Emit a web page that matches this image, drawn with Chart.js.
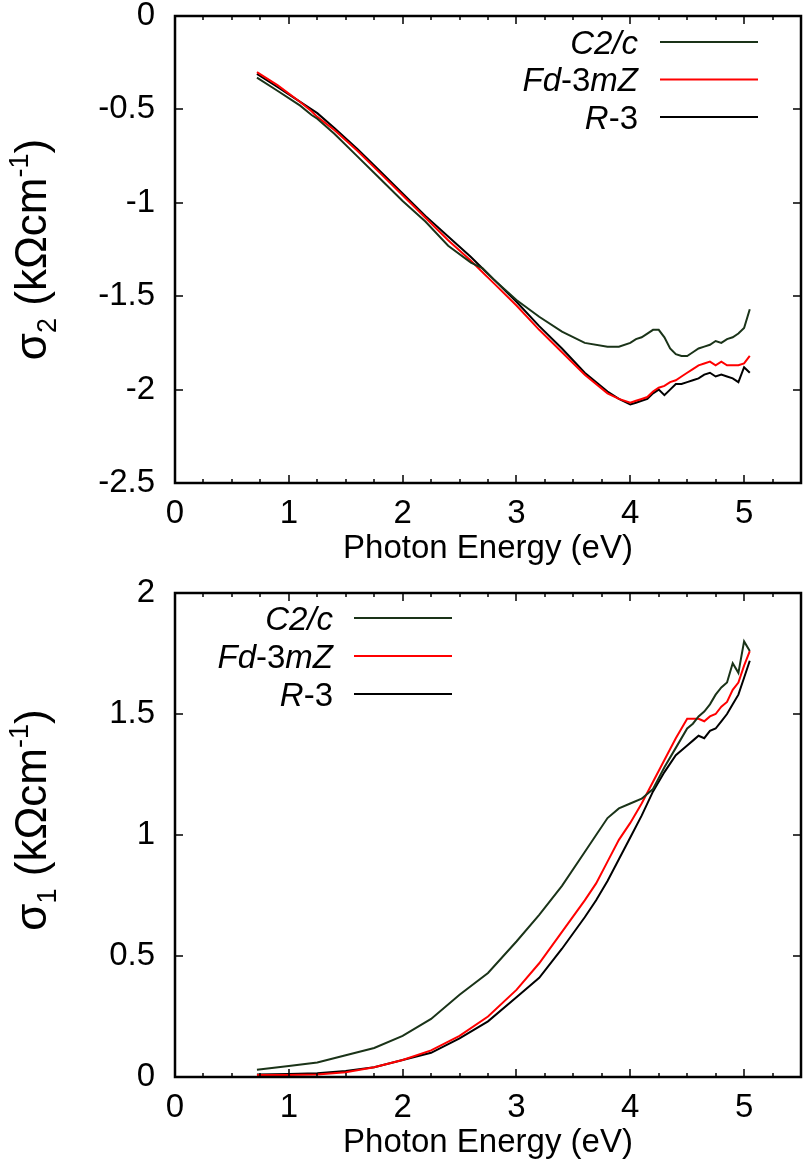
<!DOCTYPE html>
<html>
<head>
<meta charset="utf-8">
<script src="https://cdn.jsdelivr.net/npm/chart.js@4/dist/chart.umd.min.js"></script>
<style>
  html, body { margin: 0; padding: 0; background: #fff; }
  #wrap { position: relative; width: 805px; height: 1165px; }
  canvas { position: absolute; left: 0; }
</style>
</head>
<body>
<div id="wrap">
  <canvas id="sigma2" width="805" height="575" style="top:0px"></canvas>
  <canvas id="sigma1" width="805" height="590" style="top:575px"></canvas>
</div>
<script>
// ================= DATA =================
const seriesNames = ["C2/c", "Fd-3mZ", "R-3"];
const seriesColors = ["#1a3318", "#ff0000", "#000000"];
// legend label pieces: [text, italic]
const legendPieces = [
  [["C2/c", true]],
  [["Fd", true], ["-3", false], ["mZ", true]],
  [["R", true], ["-3", false]],
];

const xTicks = [0, 1, 2, 3, 4, 5];
const xMinorStep = 0.25;
const yTicksTop = [-2.5, -2, -1.5, -1, -0.5, 0];
const yTicksBottom = [0, 0.5, 1, 1.5, 2];

// sigma_2 (top panel)
const energyTop = [0.72, 0.9, 1.1, 1.2, 1.25, 1.4, 1.6, 1.8, 2.0, 2.2, 2.4, 2.6, 2.7, 2.8, 3.0, 3.2, 3.4, 3.6, 3.8, 3.9,
  4.0, 4.05, 4.1, 4.15, 4.2, 4.25, 4.3, 4.35, 4.4, 4.45, 4.5, 4.55, 4.6, 4.65, 4.7, 4.75, 4.8, 4.85, 4.9, 4.95, 5.0, 5.05];
const s2C2c = [-0.33, -0.40, -0.48, -0.53, -0.55, -0.63, -0.75, -0.87, -0.99, -1.10, -1.23, -1.32, -1.35, -1.41, -1.52, -1.61, -1.69, -1.75, -1.77, -1.77,
  -1.75, -1.73, -1.72, -1.70, -1.68, -1.68, -1.72, -1.78, -1.81, -1.82, -1.82, -1.80, -1.78, -1.77, -1.76, -1.74, -1.75, -1.73, -1.72, -1.70, -1.67, -1.57];
const s2Fd3mZ = [-0.30, -0.37, -0.46, -0.51, -0.54, -0.61, -0.72, -0.84, -0.96, -1.08, -1.20, -1.31, -1.37, -1.43, -1.55, -1.68, -1.80, -1.92, -2.02, -2.05,
  -2.07, -2.06, -2.05, -2.04, -2.01, -1.99, -1.98, -1.96, -1.95, -1.93, -1.91, -1.89, -1.87, -1.86, -1.85, -1.87, -1.85, -1.87, -1.87, -1.87, -1.86, -1.82];
const s2R3 = [-0.31, -0.38, -0.46, -0.50, -0.52, -0.60, -0.71, -0.83, -0.95, -1.07, -1.18, -1.29, -1.35, -1.41, -1.53, -1.66, -1.78, -1.91, -2.01, -2.05,
  -2.08, -2.07, -2.06, -2.05, -2.02, -2.00, -2.03, -2.00, -1.97, -1.97, -1.96, -1.95, -1.94, -1.92, -1.91, -1.93, -1.92, -1.93, -1.94, -1.96, -1.88, -1.91];

// sigma_1 (bottom panel)
const energyBottom = [0.72, 1.0, 1.25, 1.5, 1.75, 2.0, 2.25, 2.5, 2.75, 3.0, 3.2, 3.4, 3.6, 3.7, 3.8, 3.9, 4.0, 4.1, 4.2, 4.3,
  4.4, 4.5, 4.55, 4.6, 4.65, 4.7, 4.75, 4.8, 4.85, 4.9, 4.95, 5.0, 5.05];
const s1C2c = [0.03, 0.045, 0.06, 0.09, 0.12, 0.17, 0.24, 0.34, 0.43, 0.56, 0.67, 0.79, 0.93, 1.00, 1.07, 1.11, 1.13, 1.15, 1.19, 1.28,
  1.36, 1.44, 1.46, 1.49, 1.51, 1.54, 1.58, 1.61, 1.63, 1.71, 1.67, 1.80, 1.76];
const s1Fd3mZ = [0.008, 0.008, 0.01, 0.02, 0.04, 0.07, 0.11, 0.17, 0.25, 0.36, 0.47, 0.60, 0.73, 0.80, 0.89, 0.98, 1.05, 1.13, 1.22, 1.31,
  1.40, 1.48, 1.48, 1.48, 1.47, 1.49, 1.50, 1.53, 1.55, 1.60, 1.63, 1.70, 1.76];
const s1R3 = [0.01, 0.012, 0.015, 0.025, 0.04, 0.07, 0.10, 0.16, 0.23, 0.33, 0.41, 0.53, 0.66, 0.73, 0.81, 0.90, 0.99, 1.08, 1.18, 1.26,
  1.33, 1.37, 1.39, 1.41, 1.40, 1.43, 1.44, 1.47, 1.50, 1.54, 1.58, 1.65, 1.72];

const FONT = "'Liberation Sans', Arial, Helvetica, sans-serif";
const TICK_SIZE = 33;

// ================= PLUGINS =================
// closed frame with inward ticks on all four sides
const frameTicks = {
  id: "frameTicks",
  afterDatasetsDraw(chart) {
    const { ctx, chartArea: a, scales: { x, y } } = chart;
    ctx.save();
    ctx.strokeStyle = "#000";
    ctx.lineWidth = 1.5;
    ctx.beginPath();
    for (let v = x.min; v <= x.max + 1e-9; v += xMinorStep) {
      const px = Math.round(x.getPixelForValue(v));
      const len = Math.abs(v - Math.round(v)) < 1e-9 ? 8 : 4;
      ctx.moveTo(px, a.bottom); ctx.lineTo(px, a.bottom - len);
      ctx.moveTo(px, a.top); ctx.lineTo(px, a.top + len);
    }
    y.ticks.forEach((t) => {
      const py = Math.round(y.getPixelForValue(t.value));
      ctx.moveTo(a.left, py); ctx.lineTo(a.left + 8, py);
      ctx.moveTo(a.right, py); ctx.lineTo(a.right - 8, py);
    });
    ctx.stroke();
    ctx.lineWidth = 2.5;
    ctx.strokeRect(a.left, a.top, a.right - a.left, a.bottom - a.top);
    ctx.restore();
  },
};

// legend with mixed italic / upright pieces
const keyPlugin = {
  id: "keyPlugin",
  afterDatasetsDraw(chart, args, opts) {
    const { ctx } = chart;
    ctx.save();
    ctx.textBaseline = "alphabetic";
    legendPieces.forEach((pieces, i) => {
      const rowY = opts.top + i * opts.gap;
      const base = rowY + opts.size * 0.36;
      let w = 0;
      pieces.forEach(([t, it]) => {
        ctx.font = (it ? "italic " : "") + opts.size + "px " + FONT;
        w += ctx.measureText(t).width;
      });
      let cx = opts.textRight - w;
      ctx.fillStyle = "#000";
      pieces.forEach(([t, it]) => {
        ctx.font = (it ? "italic " : "") + opts.size + "px " + FONT;
        ctx.fillText(t, cx, base);
        cx += ctx.measureText(t).width;
      });
      ctx.strokeStyle = seriesColors[i];
      ctx.lineWidth = 2;
      ctx.beginPath();
      ctx.moveTo(opts.lineFrom, rowY);
      ctx.lineTo(opts.lineTo, rowY);
      ctx.stroke();
    });
    ctx.restore();
  },
};

// rotated y title with subscript / superscript
const yTitle = {
  id: "yTitle",
  afterDraw(chart, args, opts) {
    const { ctx, chartArea: a } = chart;
    const size = opts.size;
    const small = Math.round(size * 0.62);
    const parts = [
      ["σ", size, 0],
      [opts.sub, small, size * 0.22],
      [" (kΩcm", size, 0],
      ["-1", small, -size * 0.4],
      [")", size, 0],
    ];
    ctx.save();
    ctx.translate(opts.x, (a.top + a.bottom) / 2 + opts.shift);
    ctx.rotate(-Math.PI / 2);
    ctx.fillStyle = "#000";
    ctx.textBaseline = "alphabetic";
    let total = 0;
    parts.forEach(([t, s]) => { ctx.font = s + "px " + FONT; total += ctx.measureText(t).width; });
    let cx = -total / 2;
    parts.forEach(([t, s, dy]) => {
      ctx.font = s + "px " + FONT;
      ctx.fillText(t, cx, dy);
      cx += ctx.measureText(t).width;
    });
    ctx.restore();
  },
};

// ================= CHARTS =================
function makeChart(id, cfg) {
  const values = cfg.values;
  return new Chart(document.getElementById(id), {
    type: "line",
    data: {
      datasets: seriesNames.map((name, i) => ({
        label: name,
        data: cfg.energy.map((e, k) => ({ x: e, y: values[i][k] })),
        borderColor: seriesColors[i],
        borderWidth: 2,
        pointRadius: 0,
        tension: 0,
        fill: false,
      })),
    },
    options: {
      responsive: false,
      animation: false,
      events: [],
      layout: { padding: { top: cfg.areaTop, right: 4, left: 0, bottom: 0 } },
      plugins: {
        legend: { display: false },
        tooltip: { enabled: false },
        keyPlugin: cfg.key,
        yTitle: { x: 46, size: 44, sub: cfg.sub, shift: cfg.titleShift },
      },
      scales: {
        x: {
          type: "linear",
          min: 0,
          max: 5.5,
          afterBuildTicks: (s) => { s.ticks = xTicks.map((v) => ({ value: v })); },
          afterFit: (s) => {
            s.height = cfg.height - cfg.areaBottom;
            s.paddingLeft = 0;
            s.paddingRight = 0;
          },
          grid: { display: false, drawTicks: false },
          border: { display: false },
          ticks: {
            color: "#000",
            font: { family: FONT, size: TICK_SIZE, lineHeight: 1 },
            padding: 14,
            maxRotation: 0,
            autoSkip: false,
            callback: (v) => String(v),
          },
          title: {
            display: true,
            text: "Photon Energy (eV)",
            color: "#000",
            font: { family: FONT, size: 33, lineHeight: 1 },
            padding: { top: 0, bottom: cfg.titleBottom },
          },
        },
        y: {
          type: "linear",
          min: cfg.yTicks[0],
          max: cfg.yTicks[cfg.yTicks.length - 1],
          afterBuildTicks: (s) => { s.ticks = cfg.yTicks.map((v) => ({ value: v })); },
          afterFit: (s) => {
            s.width = 175;
            // let the end labels hang over the frame instead of shrinking the area
            s.paddingTop = 0;
            s.paddingBottom = 0;
          },
          grid: { display: false, drawTicks: false },
          border: { display: false },
          ticks: {
            color: "#000",
            font: { family: FONT, size: TICK_SIZE, lineHeight: 1 },
            padding: 20,
            autoSkip: false,
            callback: (v) => String(v),
          },
        },
      },
    },
    plugins: [frameTicks, keyPlugin, yTitle],
  });
}

window.onload = () => {
  makeChart("sigma2", {
    energy: energyTop,
    values: [s2C2c, s2Fd3mZ, s2R3],
    yTicks: yTicksTop,
    sub: "2",
    height: 575,
    areaTop: 16,
    areaBottom: 483,
    titleBottom: 10,
    titleShift: 0,
    key: { top: 42, gap: 37.5, textRight: 638, lineFrom: 660, lineTo: 758, size: 33 },
  });
  makeChart("sigma1", {
    energy: energyBottom,
    values: [s1C2c, s1Fd3mZ, s1R3],
    yTicks: yTicksBottom,
    sub: "1",
    height: 590,
    areaTop: 18,
    areaBottom: 502,
    titleBottom: 6,
    titleShift: -15,
    key: { top: 43, gap: 38, textRight: 333, lineFrom: 354, lineTo: 452, size: 33 },
  });
};
</script>
</body>
</html>
